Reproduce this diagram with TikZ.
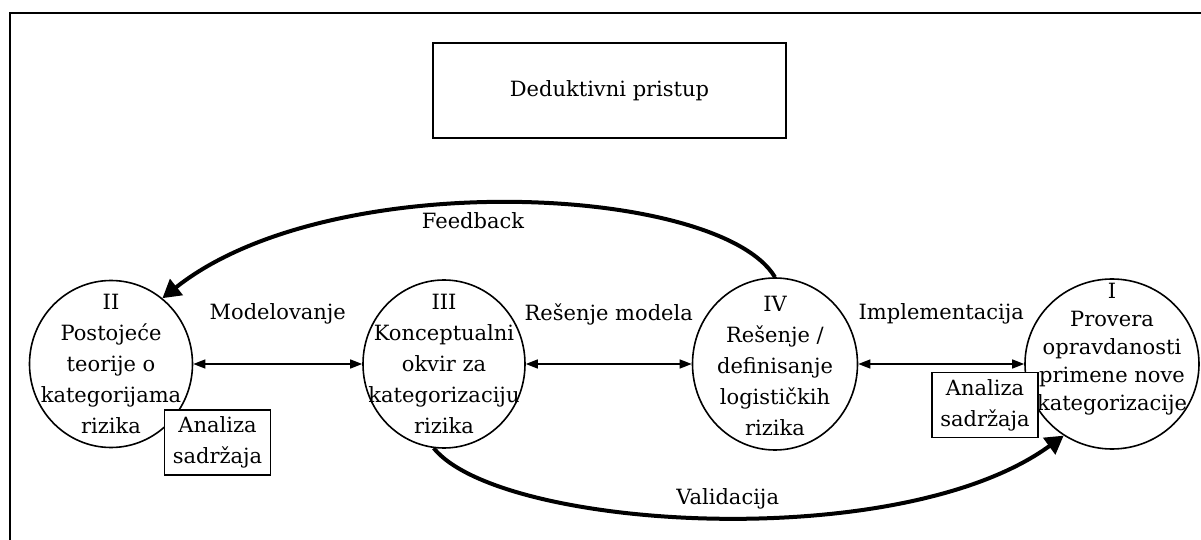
\documentclass[tikz,border=0pt]{standalone}
\usepackage{fontspec}
\setmainfont{DejaVu Serif}
\usetikzlibrary{shapes,arrows.meta,positioning}

\begin{document}
\begin{tikzpicture}[x=0.5pt, y=-0.5pt,
					every node/.style={font=\fontsize{10.5}{15.5}\selectfont, align=center, inner sep=0pt},
					phase/.style={ellipse, draw, line width=0.8pt},
					method/.style={rectangle, draw, fill=white, line width=0.8pt, minimum width=53pt, minimum height=32.5pt},
					twoway/.style={{Triangle[length=6pt,width=4.5pt]}-{Triangle[length=6pt,width=4.5pt]}, line width=0.7pt},
					thickarrow/.style={-{Triangle[length=9pt,width=10pt]}, line width=2pt}]
					\useasboundingbox (0,0) rectangle (1201,540);
					% outer frame
					\draw[line width=1pt] (1201,13) -- (10,13) -- (10,540);
					
					\node[draw, line width=0.8pt, minimum width=176.5pt, minimum height=47.5pt] (title) at (609.5,90.5) {Deduktivni pristup};
					
					% the four phases, text set on top of each ellipse
					\node[phase, minimum width=81.5pt, minimum height=83.5pt] (II) at (111,364) {};
					\node[phase, minimum width=81pt, minimum height=84pt] (III) at (444,364) {};
					\node[phase, minimum width=82.5pt, minimum height=86pt] (IV) at (775,364) {};
					\node[phase, minimum width=87pt, minimum height=85pt] (I) at (1112,364) {};
					\node (IItext) at (II) {II\\Postojeće\\teorije o\\kategorijama\\rizika};
					\node (IIItext) at (III) {III\\Konceptualni\\okvir za\\kategorizaciju\\rizika};
					\node (IVtext) at ([yshift=-1pt]IV.center) {IV\\Rešenje /\\definisanje\\logističkih\\rizika};
					\node[font=\fontsize{10.5}{14}\selectfont] (Itext) at ([yshift=7.5pt]I.center) {I\\Provera\\opravdanosti\\primene nove\\kategorizacije};
					
					\node[method] (analizaII) at (217.5,442.5) {Analiza\\sadržaja};
					\node[method] (analizaI) at (985,405) {Analiza\\sadržaja};
					
					\draw[twoway] (II) -- node[midway, yshift=25pt] (modelovanje) {Modelovanje} (III);
					\draw[twoway] (III) -- node[midway, yshift=25pt] (resenje) {Rešenje modela} (IV);
					\draw[twoway] (IV) -- node[midway, yshift=25pt] (impl) {Implementacija} (I);
					
					\draw[thickarrow] (IV.north) .. controls (720,185) and (330,165) .. node[pos=0.55, below=3pt] (feedback) {Feedback} (II.52);
					\draw[thickarrow] (III.263) .. controls (500,530) and (900,555) .. node[pos=0.52, above=3pt] (validacija) {Validacija} (I.236);
				\end{tikzpicture}
\end{document}
